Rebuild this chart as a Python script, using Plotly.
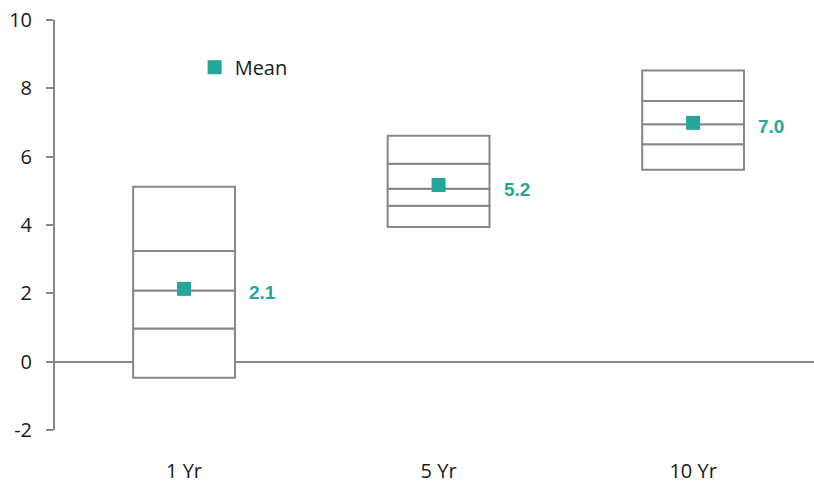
import plotly.graph_objects as go

categories = ["1 Yr", "5 Yr", "10 Yr"]
mins = [-0.47, 3.94, 5.62]
q1s = [0.97, 4.56, 6.36]
medians = [2.08, 5.06, 6.95]
q3s = [3.24, 5.79, 7.63]
maxs = [5.12, 6.61, 8.52]
means = [2.13, 5.17, 6.99]
y_ticks = [-2, 0, 2, 4, 6, 8, 10]
y_tick_labels = ["-2", "0", "2", "4", "6", "8", "10"]

TEAL = "#26a69a"
GRAY = "#878787"

fig = go.Figure()
levels = [mins, q1s, medians, q3s, maxs]
for lo, hi in zip(levels[:-1], levels[1:]):
    fig.add_trace(go.Bar(
        x=categories, base=lo, y=[h - l for h, l in zip(hi, lo)],
        width=0.4, marker=dict(color="white", line=dict(color=GRAY, width=2)),
        showlegend=False, hoverinfo="skip"))

fig.add_trace(go.Scatter(
    x=categories, y=means, mode="markers", name="Mean",
    marker=dict(symbol="square", size=14, color=TEAL)))

for c, m in zip(categories, means):
    fig.add_annotation(x=c, y=m, text=f"<b>{m:.1f}</b>", showarrow=False,
                       xshift=78, yshift=-4,
                       font=dict(family="Liberation Sans", size=19, color=TEAL))

fig.update_layout(
    width=814, height=485, barmode="overlay",
    margin=dict(l=55, r=0, t=20, b=55, autoexpand=False),
    plot_bgcolor="white", paper_bgcolor="white",
    font=dict(family="Open Sans", size=20, color="#1a1a1a"),
    legend=dict(x=0.184, y=0.885, xanchor="left", yanchor="middle",
                bgcolor="rgba(0,0,0,0)", font=dict(size=20), itemwidth=30),
    xaxis=dict(range=[-0.507, 2.475], showline=False, showgrid=False,
               zeroline=False, ticks="", ticklabelstandoff=27, automargin=False),
    yaxis=dict(range=[-2, 10], tickvals=y_ticks, ticktext=y_tick_labels,
               showgrid=False, showline=True, automargin=False,
               linecolor=GRAY, linewidth=2, ticks="outside", ticklen=7,
               tickwidth=2, tickcolor=GRAY, zeroline=True, zerolinecolor=GRAY,
               zerolinewidth=2, ticklabelstandoff=10, ticklabeloverflow="allow"),
)

fig.write_html(
    "out.html",
    config={"displayModeBar": False},
    post_script="document.body.style.margin='0';document.body.style.overflow='hidden';",
)
